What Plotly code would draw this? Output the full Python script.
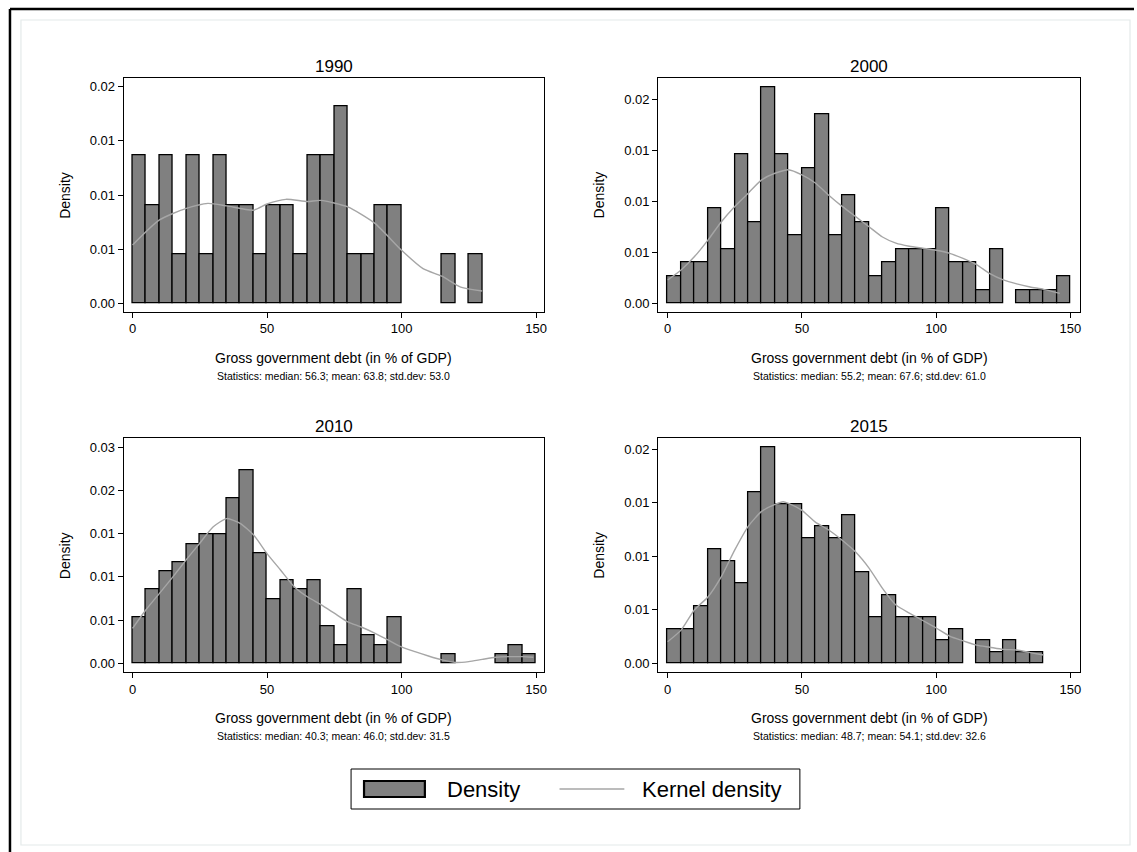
import plotly.graph_objects as go

# ---------------------------------------------------------------------------
# Data: histogram counts per 5-point bin (bins start at 0, 5, 10, ...),
# kernel density curves and summary statistics for each year.
# ---------------------------------------------------------------------------
BIN_WIDTH = 5
years = ["1990", "2000", "2010", "2015"]

counts_1990 = [3, 2, 3, 1, 3, 1, 3, 2, 2, 1, 2, 2, 1, 3, 3, 4, 1, 1, 2, 2, 0, 0, 0, 1, 0, 1]
counts_2000 = [2, 3, 3, 7, 4, 11, 6, 16, 11, 5, 10, 14, 5, 8, 6, 2, 3, 4, 4, 4, 7, 3, 3, 1, 4, 0, 1, 1, 1, 2]
counts_2010 = [5, 8, 10, 11, 13, 14, 14, 18, 21, 12, 7, 9, 8, 9, 4, 2, 8, 3, 2, 5, 0, 0, 0, 1, 0, 0, 0, 1, 2, 1]
counts_2015 = [3, 3, 5, 10, 9, 7, 15, 19, 14, 14, 11, 12, 11, 13, 8, 4, 6, 4, 4, 4, 2, 3, 0, 2, 1, 2, 1, 1]

kd_x_1990 = [0, 10, 20, 28, 35, 45, 50, 57, 65, 70, 80, 90, 100, 108, 115, 122, 130]
kd_y_1990 = [0.00538, 0.0077, 0.00877, 0.00923, 0.0090, 0.0086, 0.00917, 0.0096, 0.0094,
             0.0095, 0.0089, 0.0074, 0.0049, 0.0032, 0.0025, 0.0015, 0.00114]

kd_x_2000 = [0, 5, 10, 15, 20, 25, 30, 35, 40, 45, 50, 55, 60, 65, 70, 75, 80, 85, 90, 95,
             100, 105, 110, 115, 120, 125, 130, 135, 140, 146]
kd_y_2000 = [0.00229, 0.00327, 0.00458, 0.0062, 0.0080, 0.0095, 0.0108, 0.0121, 0.01275,
             0.0131, 0.0126, 0.0118, 0.0106, 0.0095, 0.0085, 0.0075, 0.0065, 0.0059, 0.0056,
             0.0054, 0.0052, 0.0049, 0.0044, 0.0038, 0.0029, 0.00229, 0.0019, 0.0016,
             0.00137, 0.00098]

kd_x_2010 = [0, 5, 10, 15, 20, 25, 30, 35, 40, 45, 50, 55, 60, 65, 70, 75, 80, 85, 90, 95,
             100, 105, 110, 115, 120, 125, 130, 135, 140, 145, 149]
kd_y_2010 = [0.00405, 0.0062, 0.0081, 0.0100, 0.0120, 0.0139, 0.0158, 0.01675, 0.0162,
             0.01485, 0.0127, 0.0108, 0.0089, 0.0077, 0.0068, 0.0058, 0.0048, 0.0042, 0.0035,
             0.0027, 0.0019, 0.00135, 0.00085, 0.0004, 0.0001, 0.0002, 0.00046, 0.0007,
             0.00077, 0.00077, 0.0007]

kd_x_2015 = [0, 5, 10, 15, 20, 25, 30, 35, 40, 43, 45, 50, 55, 60, 65, 70, 75, 80, 85, 90,
             95, 100, 105, 110, 115, 120, 125, 130, 135, 140]
kd_y_2015 = [0.00202, 0.0031, 0.0050, 0.0062, 0.0081, 0.0106, 0.0128, 0.0142, 0.01486,
             0.0151, 0.01495, 0.0143, 0.0132, 0.01246, 0.0115, 0.0104, 0.0089, 0.0070,
             0.00545, 0.0047, 0.0040, 0.0033, 0.00255, 0.0021, 0.0017, 0.0015, 0.0013,
             0.00125, 0.0010, 0.00078]

stats_1990 = "Statistics: median: 56.3; mean: 63.8; std.dev: 53.0"
stats_2000 = "Statistics: median: 55.2; mean: 67.6; std.dev: 61.0"
stats_2010 = "Statistics: median: 40.3; mean: 46.0; std.dev: 31.5"
stats_2015 = "Statistics: median: 48.7; mean: 54.1; std.dev: 32.6"

x_ticks = [0, 50, 100, 150]
y_ticks_1990 = [0, 0.005, 0.010, 0.015, 0.020]
y_ticks_2000 = [0, 0.005, 0.010, 0.015, 0.020]
y_ticks_2010 = [0, 0.005, 0.010, 0.015, 0.020, 0.025]
y_ticks_2015 = [0, 0.005, 0.010, 0.015, 0.020]

x_title = "Gross government debt (in % of GDP)"
y_title = "Density"

panels = {
    "1990": (counts_1990, kd_x_1990, kd_y_1990, stats_1990, y_ticks_1990),
    "2000": (counts_2000, kd_x_2000, kd_y_2000, stats_2000, y_ticks_2000),
    "2010": (counts_2010, kd_x_2010, kd_y_2010, stats_2010, y_ticks_2010),
    "2015": (counts_2015, kd_x_2015, kd_y_2015, stats_2015, y_ticks_2015),
}

# ---------------------------------------------------------------------------
# Layout geometry (pixels of a 1137 x 852 canvas)
# ---------------------------------------------------------------------------
W, H = 1137, 852
FONT = "Liberation Sans, Arial, Helvetica, sans-serif"


def px(x):
    return x / W


def py(y):
    return 1 - y / H


# plot-area box in pixels and axis ranges for each panel
geometry = {
    "1990": dict(box=(124, 545, 78.3, 311.7), xr=[-3.3, 152.8], yr=[-0.000775, 0.020775]),
    "2000": dict(box=(660, 1082.7, 78.3, 311.7), xr=[-3.5, 153.5], yr=[-0.000823, 0.02206]),
    "2010": dict(box=(124, 545, 438.3, 672.3), xr=[-3.3, 152.8], yr=[-0.00104, 0.02604]),
    "2015": dict(box=(660, 1082.7, 438.3, 672.3), xr=[-3.5, 153.5], yr=[-0.00084, 0.02103]),
}

BAR_FILL = "#808080"
KD_COLOR = "#a6a6a6"

fig = go.Figure()
annotations = []

for i, year in enumerate(years, start=1):
    counts, kx, ky, stats, yt = panels[year]
    g = geometry[year]
    x0, x1, y0, y1 = g["box"]
    xa = "x" if i == 1 else f"x{i}"
    ya = "y" if i == 1 else f"y{i}"

    n = sum(counts)
    centers, dens = [], []
    for k, c in enumerate(counts):
        if c > 0:
            centers.append(k * BIN_WIDTH + BIN_WIDTH / 2)
            dens.append(c / (n * BIN_WIDTH))

    fig.add_trace(go.Bar(
        x=centers, y=dens, width=BIN_WIDTH, xaxis=xa, yaxis=ya,
        marker=dict(color=BAR_FILL, line=dict(color="black", width=1.3)),
        name="Density", showlegend=False,
    ))
    fig.add_trace(go.Scatter(
        x=kx, y=ky, mode="lines", xaxis=xa, yaxis=ya,
        line=dict(color=KD_COLOR, width=1.4, shape="spline", smoothing=0.6),
        name="Kernel density", showlegend=False,
    ))

    axis_common = dict(
        showline=True, mirror=True, linecolor="black", linewidth=1.2,
        ticks="outside", ticklen=5, tickcolor="black", tickwidth=1,
        showgrid=False, zeroline=False,
        tickfont=dict(family=FONT, size=13, color="black"),
    )
    fig.layout[f"xaxis{'' if i == 1 else i}"] = dict(
        axis_common, domain=[px(x0), px(x1)], range=g["xr"],
        anchor=ya, tickvals=x_ticks, ticktext=[str(t) for t in x_ticks],
    )
    fig.layout[f"yaxis{'' if i == 1 else i}"] = dict(
        axis_common, domain=[py(y1), py(y0)], range=g["yr"],
        anchor=xa, tickvals=yt, ticktext=[f"{t:.2f}" for t in yt],
    )

    cx = (x0 + x1) / 2
    annotations += [
        dict(text=year, x=px(cx), y=py(y0 - 12), xref="paper", yref="paper",
             showarrow=False, font=dict(family=FONT, size=17, color="black"),
             xanchor="center", yanchor="middle"),
        dict(text=x_title, x=px(cx), y=py(y1 + 46), xref="paper", yref="paper",
             showarrow=False, font=dict(family=FONT, size=14, color="black"),
             xanchor="center", yanchor="middle"),
        dict(text=stats, x=px(cx), y=py(y1 + 64), xref="paper", yref="paper",
             showarrow=False, font=dict(family=FONT, size=10.5, color="black"),
             xanchor="center", yanchor="middle"),
        dict(text=y_title, x=px(x0 - 59), y=py((y0 + y1) / 2), xref="paper", yref="paper",
             showarrow=False, textangle=-90, font=dict(family=FONT, size=14, color="black"),
             xanchor="center", yanchor="middle"),
    ]

# ---------------------------------------------------------------------------
# Legend box drawn by hand (bar swatch + line swatch)
# ---------------------------------------------------------------------------
LEG_L, LEG_R, LEG_T, LEG_B = 352, 802, 769, 809
LEG_MID = (LEG_T + LEG_B) / 2
shapes = [
    # outer frame
    dict(type="line", xref="paper", yref="paper", x0=px(10), x1=px(W), y0=py(9), y1=py(9),
         line=dict(color="black", width=2.5)),
    dict(type="line", xref="paper", yref="paper", x0=px(10), x1=px(10), y0=py(9), y1=py(H),
         line=dict(color="black", width=2.5)),
    dict(type="rect", xref="paper", yref="paper", x0=px(21), x1=px(1133), y0=py(845), y1=py(20),
         line=dict(color="#e4eaea", width=1.2)),
    # legend
    dict(type="rect", xref="paper", yref="paper", x0=px(LEG_L), x1=px(LEG_R),
         y0=py(LEG_B), y1=py(LEG_T), line=dict(color="black", width=1), fillcolor="white"),
    dict(type="rect", xref="paper", yref="paper", x0=px(365), x1=px(426),
         y0=py(LEG_MID + 8), y1=py(LEG_MID - 8), line=dict(color="black", width=2.2),
         fillcolor=BAR_FILL),
    dict(type="line", xref="paper", yref="paper", x0=px(561), x1=px(626),
         y0=py(LEG_MID), y1=py(LEG_MID), line=dict(color=KD_COLOR, width=1.6)),
]
annotations += [
    dict(text="Density", x=px(446), y=py(LEG_MID), xref="paper", yref="paper",
         showarrow=False, xanchor="left", yanchor="middle",
         font=dict(family=FONT, size=22, color="black")),
    dict(text="Kernel density", x=px(642), y=py(LEG_MID), xref="paper", yref="paper",
         showarrow=False, xanchor="left", yanchor="middle",
         font=dict(family=FONT, size=22, color="black")),
]

fig.update_layout(
    width=W, height=H,
    margin=dict(l=0, r=0, t=0, b=0),
    paper_bgcolor="white", plot_bgcolor="white",
    bargap=0, barmode="overlay",
    showlegend=False,
    shapes=shapes, annotations=annotations,
    font=dict(family=FONT, color="black"),
)

fig.write_html("out.html")
